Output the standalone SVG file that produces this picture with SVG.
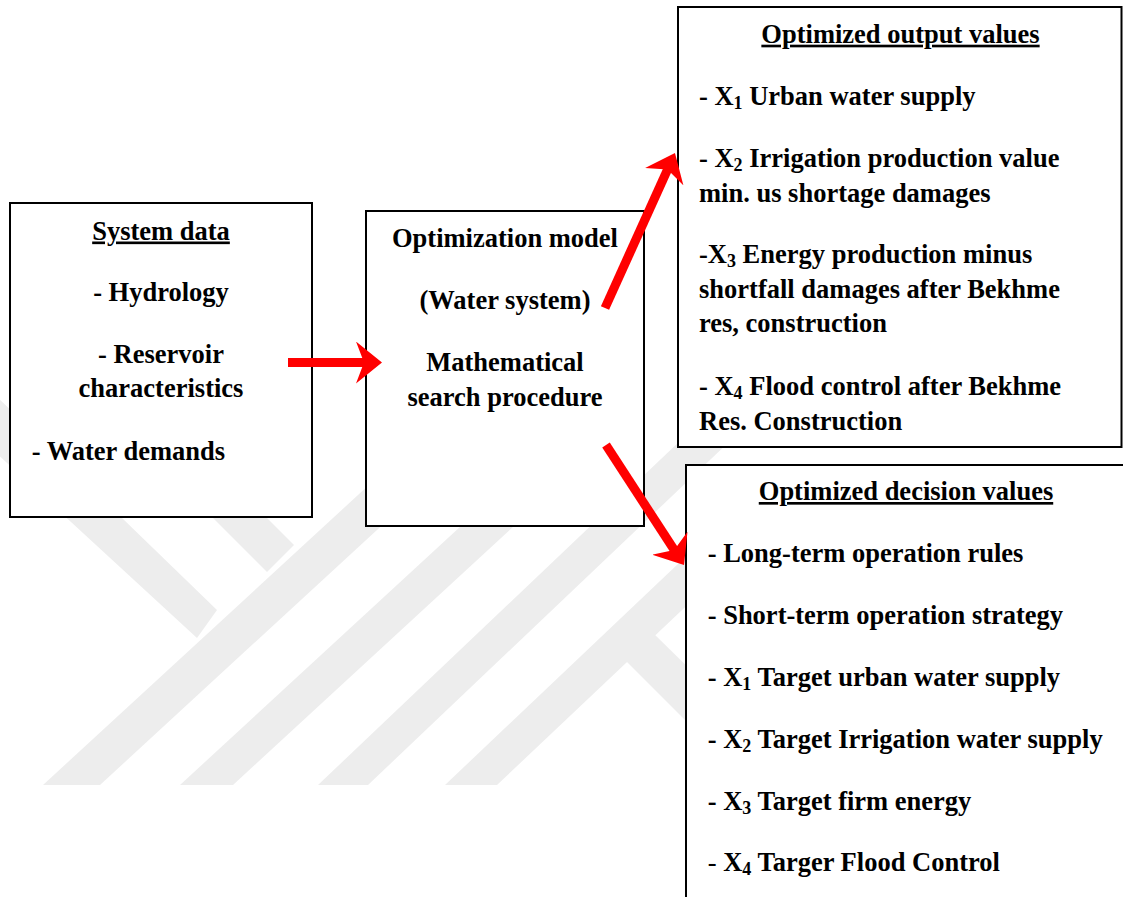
<svg xmlns="http://www.w3.org/2000/svg" width="1123" height="897" viewBox="0 0 1123 897">
  <style>
    .wm { fill: #ededed; stroke: none; }
    .box { fill: #ffffff; stroke: #000000; stroke-width: 2; }
    .t { font-family: "Liberation Serif", "Times New Roman", serif; font-weight: bold; font-size: 26.5px; fill: #000000; }
    .c { text-anchor: middle; }
    .u { text-decoration: underline; }
    .sub { font-size: 18px; }
    .thin { font-weight: normal; }
    .conn { fill: none; stroke: #ff0000; stroke-width: 9; stroke-linecap: butt; }
  </style>
  <defs>
    <marker id="head" viewBox="0 0 26 42" refX="12" refY="21" markerWidth="26" markerHeight="42" markerUnits="userSpaceOnUse" orient="auto">
      <path d="M0,0 L26,21 L0,42 L8,21 Z" fill="#ff0000"/>
    </marker>
  </defs>
  <rect width="1123" height="897" fill="#ffffff"/>

  <g id="watermark">
    <polygon class="wm" points="-5,395 217,610 197,638 -5,452"/>
    <polygon class="wm" points="195,500 249,500 294,545 267,572"/>
    <polygon class="wm" points="43,785 100,785 453,460 396,460"/>
    <polygon class="wm" points="180,785 233,785 629,420 576,420"/>
    <polygon class="wm" points="318,785 368,785 731,440 681,440"/>
    <polygon class="wm" points="445,785 497,785 830,470 777,470"/>
    <polygon class="wm" points="652,632 705,684 705,740 623,658"/>
  </g>

  <g id="system-data">
    <rect class="box" x="10" y="203" width="302" height="314"/>
    <text class="t c u" x="161" y="239.5">System data</text>
    <text class="t c" x="161" y="300.5">- Hydrology</text>
    <text class="t c" x="161" y="363">- Reservoir</text>
    <text class="t c" x="161" y="397">characteristics</text>
    <text class="t" x="31.7" y="459.5">- Water demands</text>
  </g>

  <g id="optimization-model">
    <rect class="box" x="366" y="211" width="278" height="315"/>
    <text class="t c" x="505" y="246.5">Optimization model</text>
    <text class="t c" x="505" y="308.5">(Water system)</text>
    <text class="t c" x="505" y="370.5">Mathematical</text>
    <text class="t c" x="505" y="405.5">search procedure</text>
  </g>

  <g id="optimized-output-values">
    <rect class="box" x="678" y="7" width="443.5" height="440"/>
    <text class="t c u" x="900.5" y="42.7">Optimized output values</text>
    <text class="t" x="699" y="105">- X<tspan class="sub" dy="4">1</tspan><tspan dy="-4"> Urban water supply</tspan></text>
    <text class="t" x="699" y="166.7">- X<tspan class="sub" dy="4">2</tspan><tspan dy="-4"> Irrigation production value</tspan></text>
    <text class="t" x="699" y="201.7">min. us shortage damages</text>
    <text class="t" x="699" y="263.3">-X<tspan class="sub" dy="4">3</tspan><tspan dy="-4"> Energy production minus</tspan></text>
    <text class="t" x="699" y="297.7">shortfall damages after Bekhme</text>
    <text class="t" x="699" y="332.3">res, construction</text>
    <text class="t" x="699" y="395">- X<tspan class="sub" dy="4">4</tspan><tspan dy="-4"> Flood control after Bekhme</tspan></text>
    <text class="t" x="699" y="430">Res. Construction</text>
  </g>

  <g id="optimized-decision-values">
    <rect class="box" x="686" y="465" width="445" height="445"/>
    <text class="t c u" x="906" y="500">Optimized decision values</text>
    <text class="t" x="707.7" y="562.3">- Long-term operation rules</text>
    <text class="t" x="707.7" y="624.3">- Short-term operation strategy</text>
    <text class="t" x="707.7" y="686">- X<tspan class="sub" dy="4">1</tspan><tspan dy="-4"> Target urban water supply</tspan></text>
    <text class="t" x="707.7" y="748.3">- X<tspan class="sub" dy="4">2</tspan><tspan dy="-4"> Target Irrigation water supply</tspan></text>
    <text class="t" x="707.7" y="810">- X<tspan class="sub" dy="4">3</tspan><tspan dy="-4"> Target firm energy</tspan></text>
    <text class="t" x="707.7" y="871"><tspan class="thin">-</tspan> X<tspan class="sub" dy="4">4</tspan><tspan dy="-4"> Targer Flood Control</tspan></text>
  </g>

  <g id="connectors">
    <line class="conn" x1="288" y1="362.5" x2="368" y2="362.5" marker-end="url(#head)"/>
    <line class="conn" x1="605" y1="308" x2="669.2" y2="165.8" marker-end="url(#head)"/>
    <line class="conn" x1="606" y1="445" x2="676.4" y2="553.3" marker-end="url(#head)"/>
  </g>
</svg>
